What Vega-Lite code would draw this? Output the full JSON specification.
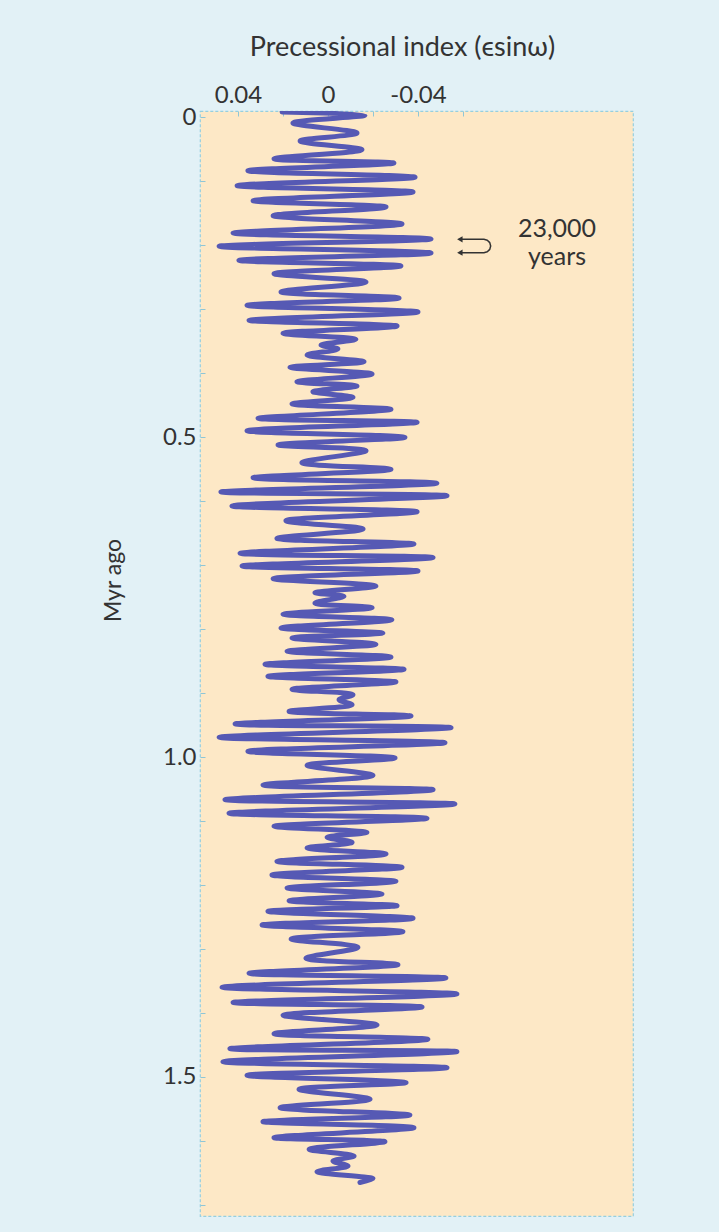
{
  "$schema": "https://vega.github.io/schema/vega-lite/v6.json",
  "width": 433,
  "height": 1105,
  "autosize": {"type": "none"},
  "padding": {"left": 200, "top": 111, "right": 86, "bottom": 16},
  "background": "#e2f1f6",
  "config": {
    "font": "Lato",
    "view": {"fill": "#fde8c6", "stroke": "#95cfe0", "strokeDash": [3, 2], "strokeWidth": 1.2}
  },
  "datasets": {
    "curve": [
      {"t": -0.0078, "v": 0.0204}, {"t": -0.0027, "v": -0.0164}, {"t": 0.0094, "v": 0.0156}, {"t": 0.025, "v": -0.0129},
      {"t": 0.0375, "v": 0.0124}, {"t": 0.0511, "v": -0.0151}, {"t": 0.0652, "v": 0.024}, {"t": 0.0719, "v": -0.0293},
      {"t": 0.0839, "v": 0.0356}, {"t": 0.0942, "v": -0.0387}, {"t": 0.1073, "v": 0.0404}, {"t": 0.1172, "v": -0.0378},
      {"t": 0.1308, "v": 0.0333}, {"t": 0.1406, "v": -0.0258}, {"t": 0.1542, "v": 0.0244}, {"t": 0.1672, "v": -0.0329},
      {"t": 0.1813, "v": 0.0422}, {"t": 0.1906, "v": -0.0458}, {"t": 0.202, "v": 0.0484}, {"t": 0.2125, "v": -0.0458},
      {"t": 0.2239, "v": 0.0396}, {"t": 0.2328, "v": -0.0324}, {"t": 0.2448, "v": 0.024}, {"t": 0.2578, "v": -0.0169},
      {"t": 0.2734, "v": 0.0209}, {"t": 0.2828, "v": -0.0316}, {"t": 0.2942, "v": 0.036}, {"t": 0.3047, "v": -0.04},
      {"t": 0.3177, "v": 0.0351}, {"t": 0.3266, "v": -0.0307}, {"t": 0.338, "v": 0.02}, {"t": 0.3473, "v": -0.0124},
      {"t": 0.3563, "v": 0.0031}, {"t": 0.3625, "v": -0.0044}, {"t": 0.3719, "v": 0.0093}, {"t": 0.3823, "v": -0.016},
      {"t": 0.3911, "v": 0.0169}, {"t": 0.4016, "v": -0.0196}, {"t": 0.4136, "v": 0.0138}, {"t": 0.4203, "v": -0.0129},
      {"t": 0.4292, "v": 0.0067}, {"t": 0.438, "v": -0.0111}, {"t": 0.4484, "v": 0.016}, {"t": 0.4567, "v": -0.028},
      {"t": 0.4708, "v": 0.0311}, {"t": 0.477, "v": -0.0396}, {"t": 0.4902, "v": 0.036}, {"t": 0.5005, "v": -0.0342},
      {"t": 0.5125, "v": 0.0222}, {"t": 0.5214, "v": -0.0169}, {"t": 0.5402, "v": 0.0116}, {"t": 0.5505, "v": -0.028},
      {"t": 0.5636, "v": 0.0333}, {"t": 0.5723, "v": -0.0484}, {"t": 0.5859, "v": 0.0476}, {"t": 0.5917, "v": -0.0529},
      {"t": 0.6078, "v": 0.0427}, {"t": 0.6167, "v": -0.0396}, {"t": 0.6308, "v": 0.0187}, {"t": 0.6438, "v": -0.0156},
      {"t": 0.6583, "v": 0.0227}, {"t": 0.6672, "v": -0.0382}, {"t": 0.6817, "v": 0.0391}, {"t": 0.6883, "v": -0.0467},
      {"t": 0.7016, "v": 0.0382}, {"t": 0.7094, "v": -0.04}, {"t": 0.7214, "v": 0.0244}, {"t": 0.7328, "v": -0.0213},
      {"t": 0.7433, "v": 0.0058}, {"t": 0.7489, "v": -0.0071}, {"t": 0.7594, "v": 0.0058}, {"t": 0.7667, "v": -0.0196},
      {"t": 0.777, "v": 0.02}, {"t": 0.7855, "v": -0.0284}, {"t": 0.7984, "v": 0.0209}, {"t": 0.8063, "v": -0.0244},
      {"t": 0.8141, "v": 0.016}, {"t": 0.8239, "v": -0.0213}, {"t": 0.8348, "v": 0.0182}, {"t": 0.8438, "v": -0.028},
      {"t": 0.8552, "v": 0.028}, {"t": 0.863, "v": -0.0338}, {"t": 0.8739, "v": 0.0267}, {"t": 0.8828, "v": -0.0302},
      {"t": 0.8942, "v": 0.016}, {"t": 0.9027, "v": -0.0111}, {"t": 0.9105, "v": -0.0049}, {"t": 0.9183, "v": -0.0107},
      {"t": 0.9286, "v": 0.0173}, {"t": 0.9359, "v": -0.0369}, {"t": 0.9484, "v": 0.0413}, {"t": 0.9542, "v": -0.0547},
      {"t": 0.9692, "v": 0.0484}, {"t": 0.9777, "v": -0.052}, {"t": 0.9911, "v": 0.0356}, {"t": 1.0016, "v": -0.0298},
      {"t": 1.013, "v": 0.0093}, {"t": 1.0289, "v": -0.02}, {"t": 1.0438, "v": 0.0289}, {"t": 1.0511, "v": -0.0467},
      {"t": 1.0667, "v": 0.0458}, {"t": 1.0734, "v": -0.0564}, {"t": 1.088, "v": 0.044}, {"t": 1.0958, "v": -0.044},
      {"t": 1.1083, "v": 0.024}, {"t": 1.1177, "v": -0.0173}, {"t": 1.1255, "v": 0.0004}, {"t": 1.1333, "v": -0.0107},
      {"t": 1.1422, "v": 0.0093}, {"t": 1.1516, "v": -0.0258}, {"t": 1.163, "v": 0.0227}, {"t": 1.1723, "v": -0.0329},
      {"t": 1.1844, "v": 0.0249}, {"t": 1.1942, "v": -0.0302}, {"t": 1.2047, "v": 0.0182}, {"t": 1.2141, "v": -0.024},
      {"t": 1.2245, "v": 0.0173}, {"t": 1.2323, "v": -0.0307}, {"t": 1.2411, "v": 0.0267}, {"t": 1.252, "v": -0.0378},
      {"t": 1.2625, "v": 0.0293}, {"t": 1.273, "v": -0.0333}, {"t": 1.2844, "v": 0.0164}, {"t": 1.2973, "v": -0.0133},
      {"t": 1.3145, "v": 0.0098}, {"t": 1.3245, "v": -0.0311}, {"t": 1.338, "v": 0.0351}, {"t": 1.3453, "v": -0.0524},
      {"t": 1.3598, "v": 0.0471}, {"t": 1.3703, "v": -0.0573}, {"t": 1.3836, "v": 0.0422}, {"t": 1.3906, "v": -0.0418},
      {"t": 1.4036, "v": 0.02}, {"t": 1.4188, "v": -0.0218}, {"t": 1.4323, "v": 0.024}, {"t": 1.4411, "v": -0.0444},
      {"t": 1.4558, "v": 0.0436}, {"t": 1.4605, "v": -0.0573}, {"t": 1.4761, "v": 0.0467}, {"t": 1.4855, "v": -0.0529},
      {"t": 1.4973, "v": 0.036}, {"t": 1.5089, "v": -0.0347}, {"t": 1.5192, "v": 0.0129}, {"t": 1.5348, "v": -0.0187},
      {"t": 1.548, "v": 0.0213}, {"t": 1.5594, "v": -0.0364}, {"t": 1.5698, "v": 0.0289}, {"t": 1.5792, "v": -0.0382},
      {"t": 1.5948, "v": 0.024}, {"t": 1.6011, "v": -0.0253}, {"t": 1.613, "v": 0.0084}, {"t": 1.6234, "v": -0.0116},
      {"t": 1.6313, "v": -0.0022}, {"t": 1.6391, "v": -0.0089}, {"t": 1.648, "v": 0.0049}, {"t": 1.6589, "v": -0.02},
      {"t": 1.6648, "v": -0.0142}
    ],
    "arrow": [
      {"i": 0, "v": -0.059, "t": 0.1911}, {"i": 1, "v": -0.0693, "t": 0.1911}, {"i": 2, "v": -0.0708, "t": 0.1925},
      {"i": 3, "v": -0.0719, "t": 0.1963}, {"i": 4, "v": -0.0723, "t": 0.2016}, {"i": 5, "v": -0.0719, "t": 0.2068},
      {"i": 6, "v": -0.0708, "t": 0.2106}, {"i": 7, "v": -0.0693, "t": 0.212}, {"i": 8, "v": -0.059, "t": 0.212}
    ],
    "heads": [
      {"v": -0.0586, "t": 0.1911}, {"v": -0.0586, "t": 0.212}
    ],
    "labels": [
      {"v": -0.1018, "t": 0.187, "s": "23,000"},
      {"v": -0.1018, "t": 0.2312, "s": "years"}
    ]
  },
  "encoding": {
    "x": {
      "field": "v", "type": "quantitative",
      "scale": {"domain": [-0.13556, 0.05689], "reverse": true, "nice": false, "zero": false},
      "axis": {
        "orient": "top",
        "title": "Precessional index (ϵsinω)",
        "titleFont": "Lato", "titleFontSize": 27, "titleFontWeight": "normal", "titleColor": "#333333",
        "titleX": 202, "titleY": -56, "titleBaseline": "alphabetic", "titleAlign": "center",
        "values": [0.04, 0.02, 0, -0.02, -0.04, -0.06],
        "labelExpr": "datum.value == 0.04 ? '0.04' : datum.value == 0 ? '0' : datum.value == -0.04 ? '-0.04' : ''",
        "labelFont": "Lato", "labelFontSize": 24, "labelColor": "#333333", "labelPadding": 9,
        "domain": false, "grid": false,
        "ticks": true, "tickSize": -5, "tickColor": "#8fc6d6", "tickWidth": 1
      }
    },
    "y": {
      "field": "t", "type": "quantitative",
      "scale": {"domain": [-0.0094, 1.7172], "reverse": true, "nice": false, "zero": false},
      "axis": {
        "title": "Myr ago",
        "titleFont": "Lato", "titleFontSize": 23, "titleFontWeight": "normal", "titleColor": "#333333",
        "titleX": -87, "titleY": 469, "titleBaseline": "middle", "titleAlign": "center", "titleAngle": 270,
        "values": [0, 0.1, 0.2, 0.3, 0.4, 0.5, 0.6, 0.7, 0.8, 0.9, 1.0, 1.1, 1.2, 1.3, 1.4, 1.5, 1.6, 1.7],
        "labelExpr": "datum.value == 0 ? '0' : datum.value == 0.5 ? '0.5' : datum.value == 1 ? '1.0' : datum.value == 1.5 ? '1.5' : ''",
        "labelFont": "Lato", "labelFontSize": 24, "labelColor": "#333333", "labelPadding": 9,
        "domain": false, "grid": false,
        "ticks": true, "tickSize": -5, "tickColor": "#8fc6d6", "tickWidth": 1
      }
    }
  },
  "layer": [
    {
      "data": {"name": "curve"},
      "mark": {"type": "line", "interpolate": "catmull-rom", "color": "#5659b4", "strokeWidth": 5, "strokeCap": "round", "strokeJoin": "round", "clip": true},
      "encoding": {"order": {"field": "t", "type": "quantitative"}}
    },
    {
      "data": {"name": "arrow"},
      "mark": {"type": "line", "color": "#333333", "strokeWidth": 1.5, "strokeCap": "round", "strokeJoin": "round"},
      "encoding": {"order": {"field": "i", "type": "quantitative"}}
    },
    {
      "data": {"name": "heads"},
      "mark": {"type": "point", "shape": "triangle-left", "filled": true, "color": "#333333", "size": 40, "opacity": 1},
      "encoding": {}
    },
    {
      "data": {"name": "labels"},
      "mark": {"type": "text", "font": "Lato", "fontSize": 25, "color": "#333333", "align": "center", "baseline": "alphabetic"},
      "encoding": {"text": {"field": "s", "type": "nominal"}}
    }
  ]
}
